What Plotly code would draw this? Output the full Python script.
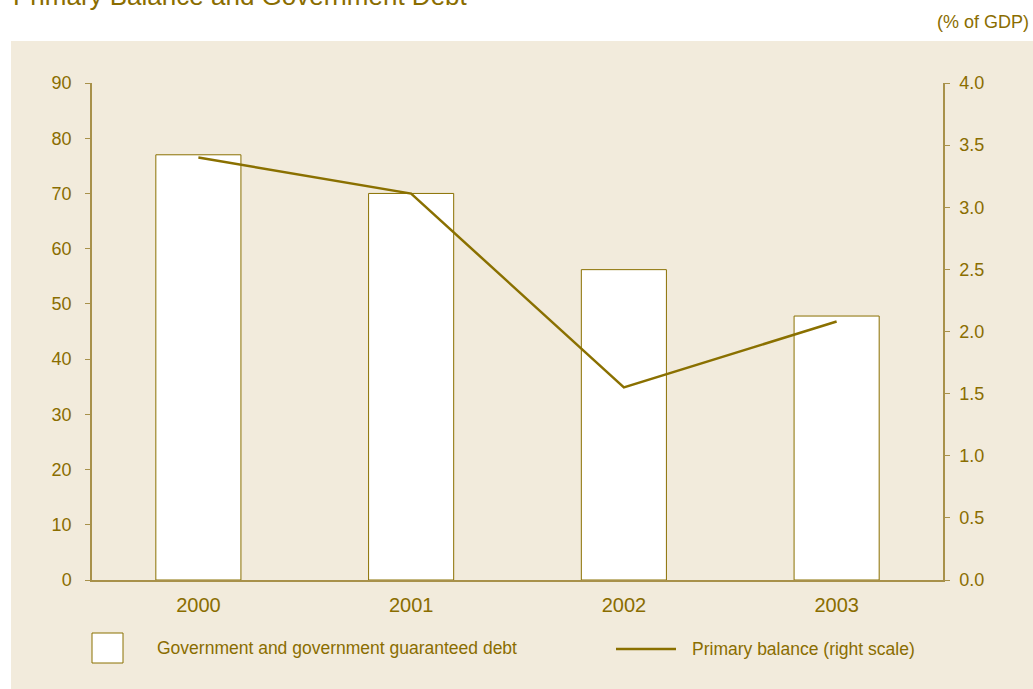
import plotly.graph_objects as go

years = ["2000", "2001", "2002", "2003"]
debt = [77.0, 70.0, 56.2, 47.8]
primary_balance = [3.40, 3.11, 1.55, 2.08]
left_ticks = [0, 10, 20, 30, 40, 50, 60, 70, 80, 90]
right_ticks = [0.0, 0.5, 1.0, 1.5, 2.0, 2.5, 3.0, 3.5, 4.0]

TXT = "#8a6d00"
AX = "#a8914a"
BG = "#f2ebdc"
FONT = "Liberation Sans"

W, H = 1033, 689
L, R, T, B = 92, 90, 83, 109
pw, ph = W - L - R, H - T - B

def px(x):
    return (x - L) / pw

def py(y):
    return (H - B - y) / ph

fig = go.Figure()
fig.add_trace(go.Bar(x=years, y=debt, width=0.4, marker=dict(color="white", line=dict(color="#8a7000", width=1)),
                     name="Government and government guaranteed debt", yaxis="y"))
fig.add_trace(go.Scatter(x=years, y=primary_balance, mode="lines", line=dict(color="#8a7000", width=2.5),
                         name="Primary balance (right scale)", yaxis="y2"))

shapes = [
    dict(type="rect", xref="paper", yref="paper", x0=px(11), x1=px(1040), y0=py(41), y1=py(700),
         fillcolor=BG, line=dict(width=0), layer="below"),
    # legend symbols
    dict(type="rect", xref="paper", yref="paper", x0=px(92), x1=px(123), y0=py(663), y1=py(633),
         fillcolor="white", line=dict(color="#8a7000", width=1)),
    dict(type="line", xref="paper", yref="paper", x0=px(616), x1=px(676), y0=py(649), y1=py(649),
         line=dict(color="#8a7000", width=2.5)),
]

annotations = [
    dict(text="Primary Balance and Government Debt", xref="paper", yref="paper", x=px(11), y=py(-4),
         xanchor="left", yanchor="middle", showarrow=False, font=dict(family=FONT, size=26, color=TXT)),
    dict(text="(% of GDP)", xref="paper", yref="paper", x=px(1031), y=py(22),
         xanchor="right", yanchor="middle", showarrow=False, font=dict(family=FONT, size=18, color=TXT)),
    dict(text="Government and government guaranteed debt", xref="paper", yref="paper", x=px(155), y=py(648),
         xanchor="left", yanchor="middle", showarrow=False, font=dict(family=FONT, size=17.5, color=TXT)),
    dict(text="Primary balance (right scale)", xref="paper", yref="paper", x=px(690), y=py(649),
         xanchor="left", yanchor="middle", showarrow=False, font=dict(family=FONT, size=17.5, color=TXT)),
]

fig.update_layout(
    width=W, height=H,
    margin=dict(l=L, r=R, t=T, b=B),
    paper_bgcolor="white", plot_bgcolor=BG,
    showlegend=False,
    bargap=0.6,
    shapes=shapes, annotations=annotations,
    font=dict(family=FONT, color=TXT),
    xaxis=dict(type="category", range=[-0.5, 3.5], showline=True, linecolor=AX, linewidth=1.5,
               ticks="", showgrid=False, tickfont=dict(size=20, color=TXT), ticklabelstandoff=6),
    yaxis=dict(range=[0, 90], tickvals=left_ticks, showline=True, linecolor=AX, linewidth=1.5,
               ticks="outside", ticklen=5, tickcolor=AX, showgrid=False, zeroline=False,
               tickfont=dict(size=18, color=TXT), ticklabelstandoff=10),
    yaxis2=dict(range=[0, 4.0], tickvals=right_ticks, tickformat=".1f", overlaying="y", side="right",
                showline=True, linecolor=AX, linewidth=1.5, ticks="outside", ticklen=5, tickcolor=AX,
                showgrid=False, zeroline=False, tickfont=dict(size=18, color=TXT), ticklabelstandoff=6),
)

fig.write_html("out.html")
